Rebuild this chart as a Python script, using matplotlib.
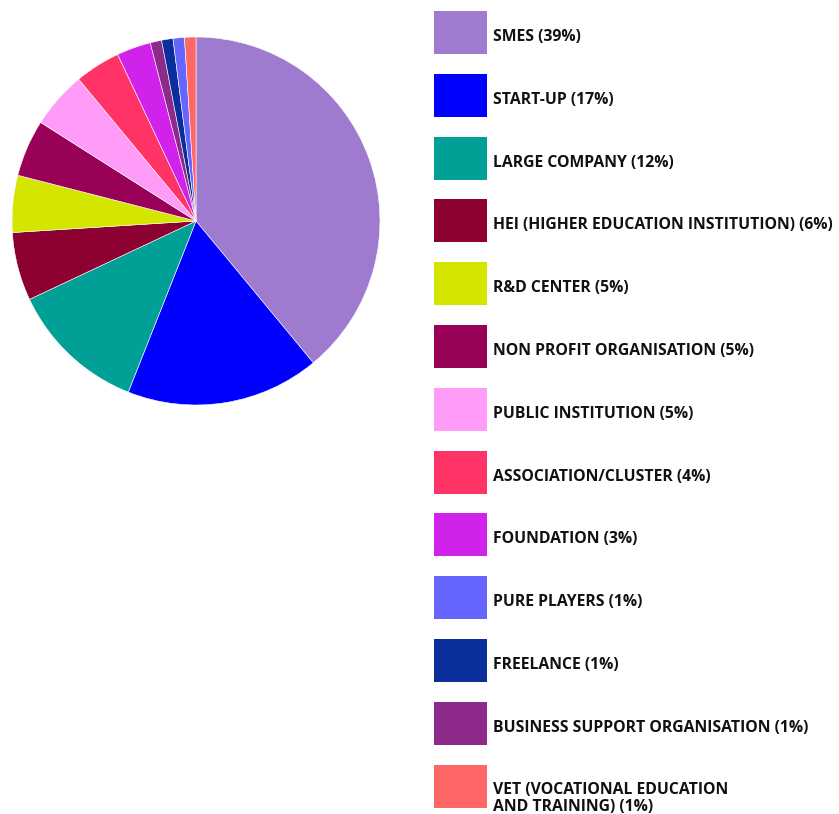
import matplotlib
matplotlib.use("Agg")
import matplotlib.pyplot as plt
from matplotlib.patches import Rectangle

# ── Datos ──────────────────────────────────────────────────────────────────────
labels = [
    "SMES", "START-UP", "LARGE COMPANY", "HEI (HIGHER EDUCATION INSTITUTION)",
    "R&D CENTER", "NON PROFIT ORGANISATION", "PUBLIC INSTITUTION",
    "ASSOCIATION/CLUSTER", "FOUNDATION", "PURE PLAYERS", "FREELANCE",
    "BUSINESS SUPPORT ORGANISATION", "VET (VOCATIONAL EDUCATION\nAND TRAINING)",
]
shares = [39, 17, 12, 6, 5, 5, 5, 4, 3, 1, 1, 1, 1]
colors = [
    "#9F7BD0", "#0000FF", "#00A096", "#8C0032", "#D4E600", "#990057",
    "#FF9CF8", "#FF3366", "#D022EA", "#6666FF", "#0A2E9A", "#8E2A8C",
    "#FF6666",
]
# orden de las porciones en el pastel (sentido horario desde arriba)
pie_order = [0, 1, 2, 3, 4, 5, 6, 7, 8, 11, 10, 9, 12]

W, H = 839, 814
fig = plt.figure(figsize=(W / 100, H / 100), dpi=100)

# ── Pastel ─────────────────────────────────────────────────────────────────────
cx, cy, r = 196, 221, 184
ax = fig.add_axes([(cx - r) / W, 1 - (cy + r) / H, 2 * r / W, 2 * r / H])
ax.pie([shares[i] for i in pie_order], colors=[colors[i] for i in pie_order],
       startangle=90, counterclock=False,
       wedgeprops=dict(edgecolor="white", linewidth=0.4))
ax.set_xlim(-1, 1)
ax.set_ylim(-1, 1)
ax.set_aspect("equal")

# ── Leyenda ────────────────────────────────────────────────────────────────────
box_x, box_w, box_h = 434, 53, 43
y0, step = 11, 62.8
for i, (lab, val) in enumerate(zip(labels, shares)):
    top = y0 + i * step
    fig.patches.append(Rectangle((box_x / W, 1 - (top + box_h) / H), box_w / W, box_h / H,
                                 transform=fig.transFigure, facecolor=colors[i],
                                 edgecolor="none"))
    ty = top + (34 if "\n" in lab else 26)
    fig.text(493 / W, 1 - ty / H, f"{lab} ({val}%)", fontsize=11.3,
             fontweight="bold", family="Open Sans", color="#111111",
             va="center", ha="left", linespacing=1.08)

fig.savefig("out.png", dpi=100)
